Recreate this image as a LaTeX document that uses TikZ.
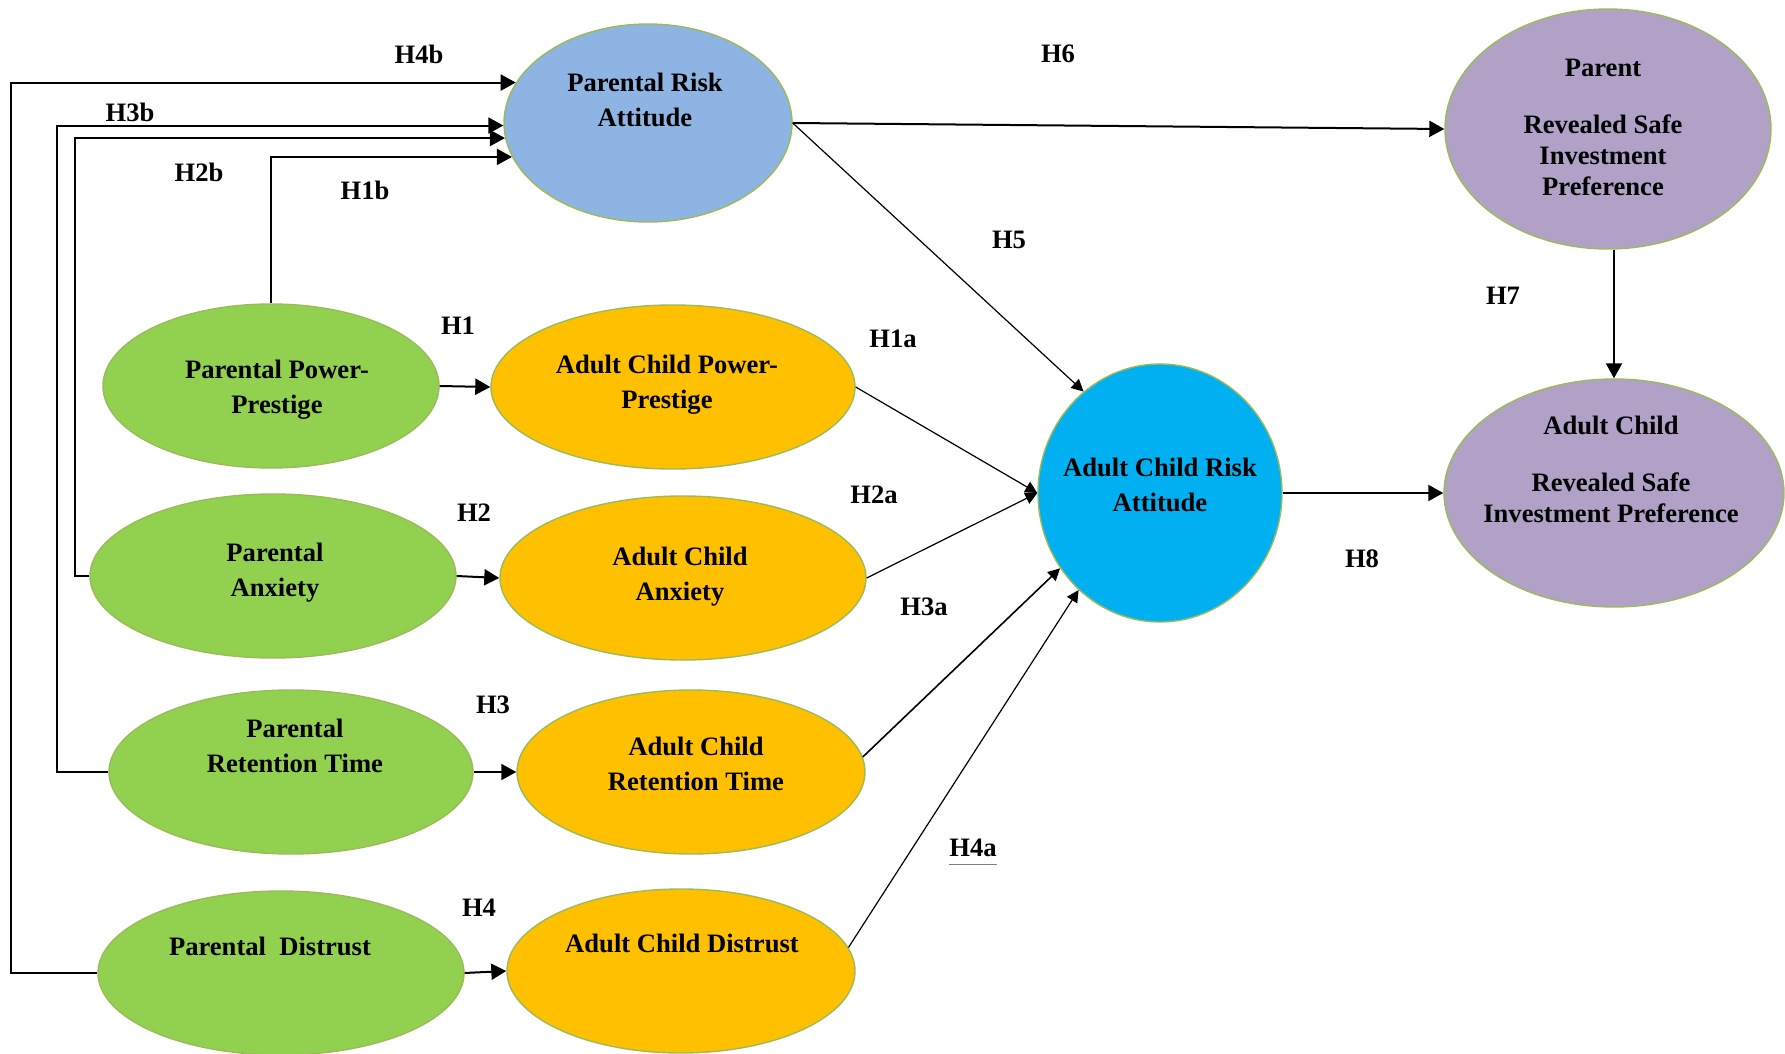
\documentclass[tikz,border=0pt]{standalone}
\usepackage{fontspec}
\setmainfont{Liberation Serif}
\usetikzlibrary{shapes.geometric,arrows.meta}
\definecolor{par}{HTML}{92D050}
\definecolor{kid}{HTML}{FFC000}
\definecolor{prisk}{HTML}{8DB4E2}
\definecolor{krisk}{HTML}{00B0F0}
\definecolor{pref}{HTML}{B2A1C7}
\definecolor{rim}{HTML}{9BBB59}

\begin{document}
\begin{tikzpicture}[x=0.5pt,y=-0.5pt,
      every node/.style={font=\fontsize{13.3}{17.5}\selectfont\bfseries},
      ebox/.style={ellipse,draw=rim,line width=0.7pt,inner sep=0pt},
      tbox/.style={align=center,inner sep=0pt},
      hlab/.style={inner sep=0pt},
      arr/.style={-{Triangle[length=7.5pt,width=8pt]},line width=1pt},
      tarr/.style={-{Triangle[length=6pt,width=6pt]},line width=0.6pt}]
    \useasboundingbox (0,0) rectangle (1785,1054);
    % Right part: risk attitudes and preferences
    \node[ebox,fill=prisk,minimum width=144pt,minimum height=99pt] (pra) at (648,123) {};
    \node[tbox] (prat) at (645,100) {Parental Risk\\Attitude};
    \node[ebox,fill=pref,minimum width=163pt,minimum height=120pt] (prsip) at (1608,129) {};
    \node[tbox,font=\fontsize{13.3}{15.5}\selectfont\bfseries] (prsipt) at (1603,127) {Parent\\[13pt]Revealed Safe\\Investment\\Preference};
    \node[ebox,fill=pref,minimum width=170pt,minimum height=114pt] (acrsip) at (1614,493) {};
    \node[tbox,font=\fontsize{13.3}{15.5}\selectfont\bfseries] (acrsipt) at (1611,469) {Adult Child\\[13pt]Revealed Safe\\Investment Preference};
    \node[ebox,fill=krisk,minimum width=122pt,minimum height=129pt] (acra) at (1160,493) {};
    \node[tbox] (acrat) at (1160,485) {Adult Child Risk\\Attitude};
    % Left columns: parents (green) and adult children (orange)
    \node[ebox,fill=par,minimum width=168pt,minimum height=82pt] (ppp) at (271,386) {};
    \node[tbox] (pppt) at (277,390) {Parental Power-\\Prestige};
    \node[ebox,fill=kid,minimum width=182pt,minimum height=82pt] (acpp) at (673,387) {};
    \node[tbox] (acppt) at (667,385) {Adult Child Power-\\Prestige};
    \node[ebox,fill=par,minimum width=183pt,minimum height=82pt] (pa) at (273,576) {};
    \node[tbox] (pat) at (275,573) {Parental\\Anxiety};
    \node[ebox,fill=kid,minimum width=183pt,minimum height=82pt] (aca) at (683,578) {};
    \node[tbox] (acat) at (680,577) {Adult Child\\Anxiety};
    \node[ebox,fill=par,minimum width=182pt,minimum height=82pt] (prt) at (291,772) {};
    \node[tbox] (prtt) at (295,746) {Parental\\Retention Time};
    \node[ebox,fill=kid,minimum width=174pt,minimum height=82pt] (acrt) at (691,772) {};
    \node[tbox] (acrtt) at (696,764) {Adult Child\\Retention Time};
    \node[ebox,fill=par,minimum width=183pt,minimum height=82pt] (pd) at (281,973) {};
    \node[tbox] (pdt) at (270,946) {Parental\ \ Distrust};
    \node[ebox,fill=kid,minimum width=174pt,minimum height=82pt] (acd) at (681,971) {};
    \node[tbox] (acdt) at (682,943) {Adult Child Distrust};
    % Hypothesis labels
    \node[hlab] (h4b) at (419,54) {H4b};
    \node[hlab] (h3b) at (130,112) {H3b};
    \node[hlab] (h2b) at (199,172) {H2b};
    \node[hlab] (h1b) at (365,190) {H1b};
    \node[hlab] (h6) at (1058,54) {H6};
    \node[hlab] (h5) at (1009,240) {H5};
    \node[hlab] (h7) at (1503,296) {H7};
    \node[hlab] (h1) at (458,326) {H1};
    \node[hlab] (h1a) at (893,339) {H1a};
    \node[hlab] (h2) at (474,513) {H2};
    \node[hlab] (h2a) at (874,495) {H2a};
    \node[hlab] (h3a) at (924,607) {H3a};
    \node[hlab] (h8) at (1362,559) {H8};
    \node[hlab] (h3) at (493,705) {H3};
    \node[hlab] (h4a) at (973,848) {H4a};
    \node[hlab] (h4) at (479,908) {H4};
    \draw[gray,line width=0.4pt] ([yshift=-3.5pt]h4a.south west) -- ([yshift=-3.5pt]h4a.south east);
    % Parent -> parental risk attitude (left loops)
    \coordinate (c4) at (11,0);
    \coordinate (c3) at (57,0);
    \coordinate (c2) at (75,0);
    \draw[arr] (pd.west) -- (pd.west -| c4) |- (pra.163);
    \draw[arr] (prt.west) -- (prt.west -| c3) |- (pra.181);
    \draw[arr] (pa.west) -- (pa.west -| c2) |- (pra.186);
    \draw[arr] (ppp.north) |- (pra.194);
    % Parent -> adult child
    \draw[arr] (ppp.east) -- (acpp.west);
    \draw[arr] (pa.east) -- (aca.west);
    \draw[arr] (prt.east) -- (acrt.west);
    \draw[arr] (pd.east) -- (acd.west);
    % Adult child -> adult child risk attitude
    \draw[tarr] (acpp.east) -- (acra.west);
    \draw[tarr] (aca.east) -- (acra.west);
    \draw[tarr,line width=0.8pt] (acrt.5) -- (acra.217);
    \draw[tarr] (acd.8) -- (acra.230);
    % Risk attitudes -> preferences
    \draw[tarr] (pra.east) -- (acra.127);
    \draw[arr] (pra.east) -- (prsip.west);
    \draw[arr] (acrsip.north |- prsip.south) -- (acrsip.north);
    \draw[arr] (acra.east) -- (acrsip.west);
  \end{tikzpicture}
\end{document}
